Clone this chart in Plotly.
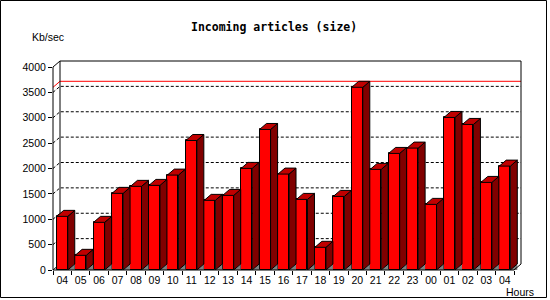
import plotly.graph_objects as go

# ---------------- data ----------------
hours = ["04", "05", "06", "07", "08", "09", "10", "11", "12", "13", "14", "15",
         "16", "17", "18", "19", "20", "21", "22", "23", "00", "01", "02", "03", "04"]
kb_per_sec = [1057, 289, 939, 1510, 1648, 1667, 1870, 2552, 1372, 1470, 2002, 2769,
              1890, 1391, 447, 1450, 3600, 1982, 2297, 2402, 1293, 3006, 2868, 1726, 2047]
y_ticks = [0, 500, 1000, 1500, 2000, 2500, 3000, 3500, 4000]
grid_values = [500, 1000, 1500, 2000, 2500, 3000, 3500]
max_rate = max(kb_per_sec)

title_text = "Incoming articles (size)"
y_unit = "Kb/sec"
x_unit = "Hours"

# ---------------- geometry (pixels) ----------------
W, H = 550, 300
L, R, T, B = 53, 521, 61, 270          # box incl. 3D depth
n = len(hours)
cat_px = 461 / n                         # front width / categories
px_per_unit = 203 / 4000
xmin = -0.5
xmax = -0.5 + (R - L) / cat_px
ymax = (B - T) / px_per_unit
DXP, DYP = 7, 6                          # depth in px
DX = DXP / cat_px
DY = DYP / px_per_unit
BAR_W = 0.6

FRONT = "#FF0000"
TOP = "#C00000"
SIDE = "#800000"
SHADOW = "#808080"


def pxx(px):
    return (px - L) / (R - L)


def pxy(py):
    return (B - py) / (B - T)


xs = list(range(n))

fig = go.Figure()
fig.add_trace(go.Bar(
    x=xs, y=kb_per_sec, width=BAR_W,
    marker=dict(color=FRONT, line=dict(color="black", width=1)),
    hoverinfo="skip",
))

shapes = []

# back wall gridlines (dotted, with diagonal on left wall)
for v in grid_values:
    shapes.append(dict(type="path", xref="paper", yref="y", layer="below",
                       path=f"M 0,{v} L {pxx(L + DXP)},{v + DY} L 1,{v + DY}",
                       line=dict(color="black", width=1, dash="3px,2px")))

# max line (red)
shapes.append(dict(type="path", xref="paper", yref="y", layer="below",
                   path=f"M 0,{max_rate} L {pxx(L + DXP)},{max_rate + DY} L 1,{max_rate + DY}",
                   line=dict(color="red", width=1)))

# back wall frame
shapes.append(dict(type="path", xref="paper", yref="paper", layer="below",
                   path=(f"M {pxx(L + DXP)},{pxy(B - DYP)} L {pxx(L + DXP)},{pxy(T)} "
                         f"L {pxx(R)},{pxy(T)} L {pxx(R)},{pxy(B - DYP)}"),
                   line=dict(color="black", width=1)))
# left wall: front axis + diagonals
shapes.append(dict(type="path", xref="paper", yref="paper", layer="below",
                   path=(f"M {pxx(L + DXP)},{pxy(T)} L {pxx(L)},{pxy(T + DYP)} "
                         f"L {pxx(L)},{pxy(B)} L {pxx(L + DXP)},{pxy(B - DYP)}"),
                   line=dict(color="black", width=1)))

# bars 3D faces
for x, v in zip(xs, kb_per_sec):
    xl = x - BAR_W / 2
    xr = x + BAR_W / 2
    shapes.append(dict(type="path", xref="x", yref="y", layer="above",
                       path=f"M {xr},0 L {xr + DX},{DY} L {xr + DX},0 Z",
                       fillcolor=SHADOW, line=dict(width=0)))
    shapes.append(dict(type="path", xref="x", yref="y", layer="above",
                       path=f"M {xr},0 L {xr + DX},{DY} L {xr + DX},{v + DY} L {xr},{v} Z",
                       fillcolor=SIDE, line=dict(color="black", width=1)))
    shapes.append(dict(type="path", xref="x", yref="y", layer="above",
                       path=f"M {xl},{v} L {xl + DX},{v + DY} L {xr + DX},{v + DY} L {xr},{v} Z",
                       fillcolor=TOP, line=dict(color="black", width=1)))

# floor front edge + right diagonal
shapes.append(dict(type="path", xref="paper", yref="paper", layer="above",
                   path=(f"M {pxx(L)},{pxy(B)} L {pxx(R - DXP)},{pxy(B)} "
                         f"L {pxx(R)},{pxy(B - DYP)}"),
                   line=dict(color="black", width=1)))

# outer border
shapes.append(dict(type="rect", xref="paper", yref="paper", layer="above",
                   x0=pxx(0.5), x1=pxx(546.5), y0=pxy(297.5), y1=pxy(0.5),
                   line=dict(color="black", width=1)))

tick_font = dict(family="Liberation Sans", size=10.5, color="black")

annotations = [
    dict(text=f"<b>{title_text}</b>", xref="paper", yref="paper",
         x=pxx(274), y=pxy(27), showarrow=False, xanchor="center", yanchor="middle",
         font=dict(family="DejaVu Sans Mono", size=11.5, color="black")),
    dict(text=y_unit, xref="paper", yref="paper", x=pxx(30), y=pxy(37),
         showarrow=False, xanchor="left", yanchor="middle", font=tick_font),
    dict(text=x_unit, xref="paper", yref="paper", x=pxx(504), y=pxy(292),
         showarrow=False, xanchor="left", yanchor="middle", font=tick_font),
]

fig.update_layout(
    width=W, height=H,
    margin=dict(l=L, r=W - R, t=T, b=H - B, pad=0),
    paper_bgcolor="white", plot_bgcolor="rgba(0,0,0,0)",
    showlegend=False,
    shapes=shapes, annotations=annotations,
    bargap=0,
    xaxis=dict(range=[xmin, xmax], tickmode="array", tickvals=xs, ticktext=hours,
               ticks="", showgrid=False, zeroline=False, showline=False,
               tickfont=tick_font, fixedrange=True, ticklabelstandoff=2,
               minor=dict(tickmode="array", tickvals=[i - 0.5 for i in range(n + 1)],
                          ticks="outside", ticklen=4, tickcolor="black", tickwidth=1,
                          showgrid=False)),
    yaxis=dict(range=[0, ymax], tickmode="array", tickvals=y_ticks,
               ticktext=[str(t) for t in y_ticks],
               ticks="outside", ticklen=4, tickcolor="black", tickwidth=1,
               showgrid=False, zeroline=False, showline=False,
               tickfont=tick_font, fixedrange=True),
)

fig.write_html("out.html")
